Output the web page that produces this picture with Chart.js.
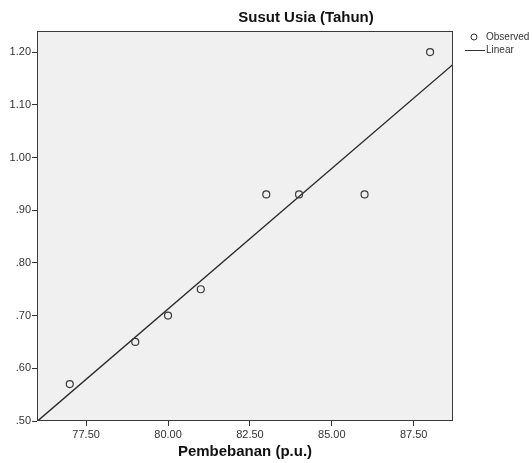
<!DOCTYPE html>
<html>
<head>
<meta charset="utf-8">
<script src="https://cdn.jsdelivr.net/npm/chart.js@4.4.1/dist/chart.umd.min.js"></script>
<style>
  html, body { margin: 0; padding: 0; background: #fff; }
  canvas { display: block; }
</style>
</head>
<body>
<canvas id="grafik" width="532" height="463"></canvas>
<script>
// data yang dibaca dari gambar
const pembebanan = [77, 79, 80, 81, 83, 84, 86, 88];
const susutUsia = [0.57, 0.65, 0.70, 0.75, 0.93, 0.93, 0.93, 1.20];
const xTicks = [77.5, 80, 82.5, 85, 87.5];
const yTicks = [0.5, 0.6, 0.7, 0.8, 0.9, 1.0, 1.1, 1.2];
const xMin = 76, xMax = 88.7;
const yMin = 0.5, yMax = 1.24;

const judul = 'Susut Usia (Tahun)';
const judulX = 'Pembebanan (p.u.)';
const FONT = '"Liberation Sans", Arial, sans-serif';

// garis regresi linear (kuadrat terkecil)
function regresi(xs, ys) {
    const n = xs.length;
    const mx = xs.reduce((a, b) => a + b, 0) / n;
    const my = ys.reduce((a, b) => a + b, 0) / n;
    let sxy = 0, sxx = 0;
    for (let i = 0; i < n; i++) {
        sxy += (xs[i] - mx) * (ys[i] - my);
        sxx += (xs[i] - mx) * (xs[i] - mx);
    }
    const b = sxy / sxx;
    return (x) => my + b * (x - mx);
}
const garis = regresi(pembebanan, susutUsia);

const labelY = (v) => {
    const s = Number(v).toFixed(2);
    return s.startsWith('0') ? s.slice(1) : s;
};

// latar abu-abu, bingkai, judul dan legenda ala SPSS
const gayaSpss = {
    id: 'gayaSpss',
    beforeDraw(chart) {
        const { ctx, chartArea: a } = chart;
        ctx.save();
        ctx.fillStyle = '#f0f0f0';
        ctx.fillRect(a.left, a.top, a.right - a.left, a.bottom - a.top);
        ctx.restore();
    },
    afterDraw(chart) {
        const { ctx, chartArea: a } = chart;
        ctx.save();
        ctx.strokeStyle = '#3a3a3a';
        ctx.lineWidth = 1;
        ctx.strokeRect(a.left + 0.5, a.top + 0.5, a.right - a.left - 1, a.bottom - a.top - 1);

        ctx.fillStyle = '#111';
        ctx.font = 'bold 15px ' + FONT;
        ctx.textAlign = 'center';
        ctx.textBaseline = 'middle';
        ctx.fillText(judul, 306, 18);

        // legenda
        ctx.font = '10px ' + FONT;
        ctx.textAlign = 'left';
        ctx.fillStyle = '#333';
        ctx.strokeStyle = '#333';
        ctx.beginPath();
        ctx.arc(474, 37, 3, 0, Math.PI * 2);
        ctx.stroke();
        ctx.fillText('Observed', 486, 37);
        ctx.beginPath();
        ctx.moveTo(465, 50.5);
        ctx.lineTo(485, 50.5);
        ctx.stroke();
        ctx.fillText('Linear', 486, 50);
        ctx.restore();
    }
};

new Chart(document.getElementById('grafik'), {
    type: 'scatter',
    data: {
        datasets: [
            {
                label: 'Observed',
                data: pembebanan.map((x, i) => ({ x: x, y: susutUsia[i] })),
                pointRadius: 3.5,
                pointBorderWidth: 1.2,
                borderColor: '#3a3a3a',
                backgroundColor: 'rgba(0,0,0,0)',
            },
            {
                label: 'Linear',
                type: 'line',
                data: [{ x: xMin, y: garis(xMin) }, { x: xMax, y: garis(xMax) }],
                borderColor: '#2a2a2a',
                borderWidth: 1.4,
                pointRadius: 0,
                fill: false,
            },
        ],
    },
    options: {
        responsive: false,
        animation: false,
        layout: { padding: { top: 31, right: 79, left: 0, bottom: 0 } },
        plugins: {
            legend: { display: false },
            tooltip: { enabled: false },
        },
        scales: {
            x: {
                type: 'linear',
                min: xMin,
                max: xMax,
                afterBuildTicks: (s) => { s.ticks = xTicks.map((v) => ({ value: v })); },
                afterFit: (s) => { s.height = 42; },
                border: { display: false },
                grid: { drawOnChartArea: false, tickLength: 5, color: '#333' },
                ticks: {
                    padding: 2,
                    color: '#333',
                    font: { size: 11, family: FONT },
                    callback: (v) => Number(v).toFixed(2),
                },
                title: {
                    display: true,
                    text: judulX,
                    color: '#111',
                    font: { size: 15, weight: 'bold', family: FONT },
                    padding: { top: 0, bottom: 2 },
                },
            },
            y: {
                min: yMin,
                max: yMax,
                afterBuildTicks: (s) => { s.ticks = yTicks.map((v) => ({ value: v })); },
                afterFit: (s) => { s.width = 37; },
                border: { display: false },
                grid: { drawOnChartArea: false, tickLength: 5, color: '#333' },
                ticks: {
                    padding: 1,
                    color: '#333',
                    font: { size: 11, family: FONT },
                    callback: labelY,
                },
            },
        },
    },
    plugins: [gayaSpss],
});
</script>
</body>
</html>
